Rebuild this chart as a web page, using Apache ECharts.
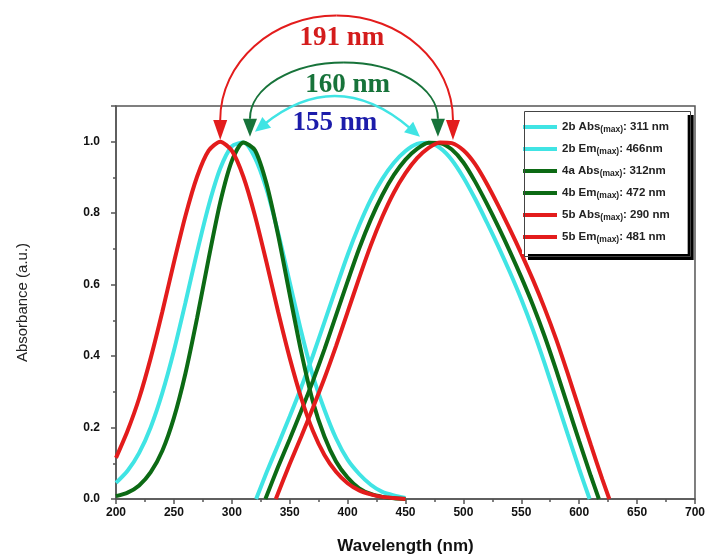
<!DOCTYPE html>
<html>
<head>
<meta charset="utf-8">
<script src="https://cdn.jsdelivr.net/npm/echarts@6/dist/echarts.min.js"></script>
<style>
html, body { margin: 0; padding: 0; background: #fff; }
#chart { width: 708px; height: 560px; }
</style>
</head>
<body>
<div id="chart"></div>
<script>
// absorption curves, sampled every 10 nm
var absWave = [200,210,220,230,240,250,260,270,280,290,300,310,320,330,340,350,360,370,380,390,400,410,420,430,440,450];
var abs2b = [0.045,0.079,0.129,0.201,0.297,0.415,0.550,0.691,0.821,0.925,0.987,0.998,0.955,0.867,0.745,0.607,0.468,0.345,0.25,0.17,0.11,0.07,0.04,0.02,0.01,0.003];
var abs4a = [0.008,0.018,0.038,0.075,0.135,0.227,0.352,0.506,0.673,0.830,0.946,0.998,0.976,0.882,0.739,0.573,0.411,0.273,0.175,0.105,0.06,0.03,0.014,0.006,0.002,0];
var abs5b = [0.115,0.191,0.282,0.395,0.524,0.662,0.793,0.902,0.975,1.0,0.975,0.902,0.793,0.662,0.524,0.395,0.282,0.191,0.123,0.076,0.044,0.024,0.013,0.006,0.003,0];

// emission curves
var emWave2b = [321,330,340,350,360,370,380,390,400,410,420,430,440,450,460,470,480,490,500,510,520,530,540,550,560,570,580,590,600,609];
var em2b = [0,0.074,0.152,0.231,0.313,0.401,0.495,0.590,0.683,0.766,0.838,0.896,0.941,0.974,0.994,0.997,0.982,0.949,0.900,0.841,0.776,0.708,0.636,0.559,0.474,0.381,0.282,0.182,0.084,0];
var emWave4b = [329,340,350,360,370,380,390,400,410,420,430,440,450,460,470,480,490,500,510,520,530,540,550,560,570,580,590,600,610,617];
var em4b = [0,0.090,0.167,0.247,0.330,0.419,0.514,0.609,0.701,0.782,0.851,0.907,0.950,0.980,0.997,0.996,0.978,0.942,0.889,0.828,0.763,0.694,0.621,0.543,0.457,0.362,0.262,0.162,0.065,0];
var emWave5b = [338,350,360,370,380,390,400,410,420,430,440,450,460,470,480,490,500,510,520,530,540,550,560,570,580,590,600,610,620,626];
var em5b = [0,0.098,0.175,0.255,0.338,0.428,0.523,0.619,0.71,0.79,0.858,0.912,0.954,0.983,0.998,0.996,0.976,0.938,0.884,0.822,0.756,0.687,0.614,0.535,0.448,0.352,0.252,0.152,0.055,0];

var names = ['2b Abs', '2b Em', '4a Abs', '4b Em', '5b Abs', '5b Em'];
var legendTail = [': 311 nm', ': 466nm', ': 312nm', ': 472 nm', ': 290 nm', ': 481 nm'];
var colors = ['#40e4e4', '#40e4e4', '#0c6a14', '#0c6a14', '#e31c1c', '#e31c1c'];

// Stokes shift arrows (wavelength, absorbance)
var arcLeft = [[290, 1.005], [315.7, 1.014], [320, 1.028]];
var arcRight = [[491, 1.005], [478, 1.014], [462.5, 1.014]];
var arcTop = [1.353, 1.222, 1.117];
var arcText = ['191 nm', '160 nm', '155 nm'];
var arcTextAt = [[395, 1.289], [400, 1.158], [389, 1.053]];
var arcColor = ['#e31c1c', '#17733a', '#40e4e4'];
var arcTextColor = ['#d41c1c', '#17733a', '#1c1caa'];
var arcRound = [true, true, false];
var arcHead = [[20, 7], [18, 7], [15, 7]];
var arcWidth = [2, 2, 2.5];

function pairs(xs, ys) {
    return xs.map(function (x, i) { return [x, ys[i]]; });
}

function head(tip, dx, dy, len, hw, color) {
    var bx = tip[0] - dx * len, by = tip[1] - dy * len;
    return {
        type: 'polygon',
        shape: { points: [tip, [bx - dy * hw, by + dx * hw], [bx + dy * hw, by - dx * hw]] },
        style: { fill: color }
    };
}

function drawArc(params, api) {
    var i = params.dataIndex;
    var L = api.coord([api.value(0), api.value(1)]);
    var R = api.coord([api.value(2), api.value(3)]);
    var T = api.coord([(api.value(0) + api.value(2)) / 2, api.value(4)]);
    var P = api.coord([api.value(5), api.value(6)]);
    var col = arcColor[i], len = arcHead[i][0], hw = arcHead[i][1];
    var kids = [];
    var xm = (L[0] + R[0]) / 2, yt = T[1];
    var line = { stroke: col, lineWidth: arcWidth[i], fill: null };
    if (arcRound[i]) {
        var k = 0.5523, a = (R[0] - L[0]) / 2;
        var ybL = L[1] - len, ybR = R[1] - len;
        kids.push({ type: 'bezierCurve', shape: { x1: L[0], y1: ybL, cpx1: L[0], cpy1: ybL - k * (ybL - yt), cpx2: xm - k * a, cpy2: yt, x2: xm, y2: yt }, style: line });
        kids.push({ type: 'bezierCurve', shape: { x1: xm, y1: yt, cpx1: xm + k * a, cpy1: yt, cpx2: R[0], cpy2: ybR - k * (ybR - yt), x2: R[0], y2: ybR }, style: line });
        kids.push(head(L, 0, 1, len, hw, col));
        kids.push(head(R, 0, 1, len, hw, col));
    } else {
        var cx = xm, cy = 2 * yt - (L[1] + R[1]) / 2;
        var lx = L[0] - cx, ly = L[1] - cy, ln = Math.sqrt(lx * lx + ly * ly);
        var rx = R[0] - cx, ry = R[1] - cy, rn = Math.sqrt(rx * rx + ry * ry);
        lx /= ln; ly /= ln; rx /= rn; ry /= rn;
        kids.push({ type: 'bezierCurve', shape: { x1: L[0] - lx * len * 0.8, y1: L[1] - ly * len * 0.8, cpx1: cx, cpy1: cy, x2: R[0] - rx * len * 0.8, y2: R[1] - ry * len * 0.8 }, style: line });
        kids.push(head(L, lx, ly, len, hw, col));
        kids.push(head(R, rx, ry, len, hw, col));
    }
    kids.push({
        type: 'text', x: P[0], y: P[1],
        style: { text: arcText[i], fill: arcTextColor[i], fontSize: 27, fontWeight: 'bold', fontFamily: 'Liberation Serif', align: 'center', verticalAlign: 'middle' }
    });
    return { type: 'group', children: kids };
}

var curves = [pairs(absWave, abs2b), pairs(emWave2b, em2b), pairs(absWave, abs4a), pairs(emWave4b, em4b), pairs(absWave, abs5b), pairs(emWave5b, em5b)];
var series = names.map(function (n, i) {
    return {
        name: n, type: 'line', data: curves[i], smooth: 0.25, symbol: 'none',
        lineStyle: { width: 4, color: colors[i] }, itemStyle: { color: colors[i] }, z: 2
    };
});
series.push({
    type: 'custom', renderItem: drawArc, clip: false, z: 5, silent: true,
    encode: { x: [0, 2, 5], y: [1, 3, 4, 6] },
    data: arcLeft.map(function (p, i) {
        return [p[0], p[1], arcRight[i][0], arcRight[i][1], arcTop[i], arcTextAt[i][0], arcTextAt[i][1]];
    })
});

var axisColor = '#555';
var labelFont = { fontSize: 12, fontWeight: 'bold', color: '#111', fontFamily: 'Liberation Sans' };

var myChart = echarts.init(document.getElementById('chart'));
myChart.setOption({
    animation: false,
    grid: { left: 116, right: 13, top: 106, bottom: 59, show: true, borderColor: axisColor, borderWidth: 1.5 },
    legend: {
        data: names, orient: 'vertical', left: 522, top: 109,
        icon: 'rect', itemWidth: 34, itemHeight: 4, itemGap: 7,
        padding: [10, 18, 10, 1],
        backgroundColor: '#fff', borderWidth: 0,
        shadowColor: '#000', shadowBlur: 0, shadowOffsetX: 6, shadowOffsetY: 6,
        formatter: function (n) {
            return '{m|' + n + '}{s|(max)}{m|' + legendTail[names.indexOf(n)] + '}';
        },
        textStyle: {
            rich: {
                m: { fontSize: 11.5, fontWeight: 'bold', color: '#222', fontFamily: 'Liberation Sans', lineHeight: 14 },
                s: { fontSize: 8.5, fontWeight: 'bold', color: '#222', fontFamily: 'Liberation Sans', lineHeight: 14, verticalAlign: 'bottom', padding: [6, 0, 0, 0] }
            }
        }
    },
    graphic: [{
        type: 'rect', left: 522, top: 109, z: 100, silent: true,
        shape: { width: 166, height: 145 },
        style: { fill: null, stroke: '#444', lineWidth: 1 }
    }],
    xAxis: {
        type: 'value', min: 200, max: 700, interval: 50,
        name: 'Wavelength (nm)', nameLocation: 'middle', nameGap: 39,
        nameTextStyle: { fontSize: 17, fontWeight: 'bold', color: '#111', fontFamily: 'Liberation Sans' },
        axisLine: { lineStyle: { color: axisColor, width: 1.5 } },
        axisTick: { length: 5, lineStyle: { color: axisColor, width: 1.5 } },
        minorTick: { show: true, splitNumber: 2, length: 3, lineStyle: { color: axisColor, width: 1.5 } },
        splitLine: { show: false },
        axisLabel: Object.assign({ margin: 8 }, labelFont)
    },
    yAxis: {
        type: 'value', min: 0, max: 1.1, interval: 0.2,
        name: 'Absorbance (a.u.)', nameLocation: 'middle', nameGap: 86,
        nameTextStyle: { fontSize: 15, color: '#222', fontFamily: 'Liberation Sans' },
        axisLine: { lineStyle: { color: axisColor, width: 1.5 } },
        axisTick: { length: 5, lineStyle: { color: axisColor, width: 1.5 } },
        minorTick: { show: true, splitNumber: 2, length: 3, lineStyle: { color: axisColor, width: 1.5 } },
        splitLine: { show: false },
        axisLabel: Object.assign({ margin: 16, showMaxLabel: false, formatter: function (v) { return v.toFixed(1); } }, labelFont)
    },
    series: series
});
</script>
</body>
</html>
